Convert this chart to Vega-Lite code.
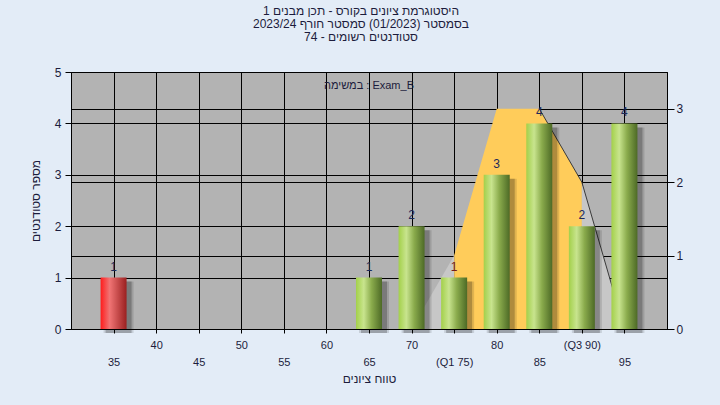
{
  "$schema": "https://vega.github.io/schema/vega-lite/v6.json",
  "width": 596,
  "height": 257,
  "autosize": "none",
  "padding": {"left": 71, "top": 72, "right": 53, "bottom": 76},
  "background": "#e3ecf7",
  "config": {
    "view": {"stroke": "#000", "strokeWidth": 1, "fill": "#b3b3b3"},
    "font": "Liberation Sans"
  },
  "title": {
    "text": ["\u202bהיסטוגרמת ציונים בקורס - תכן מבנים 1\u202c", "\u202bבסמסטר  (01/2023)  סמסטר חורף 2023/24\u202c", "\u202bסטודנטים רשומים - 74\u202c"],
    "anchor": "middle",
    "frame": "group",
    "dx": -8,
    "offset": 22,
    "fontSize": 12,
    "lineHeight": 13,
    "fontWeight": "normal",
    "font": "Liberation Sans",
    "color": "#1c1c3c"
  },
  "datasets": {
    "bars": [
      {"score": 35, "count": 1, "kind": "fail"},
      {"score": 65, "count": 1, "kind": "pass"},
      {"score": 70, "count": 2, "kind": "pass"},
      {"score": 75, "count": 1, "kind": "pass"},
      {"score": 80, "count": 3, "kind": "pass"},
      {"score": 85, "count": 4, "kind": "pass"},
      {"score": 90, "count": 2, "kind": "pass"},
      {"score": 95, "count": 4, "kind": "pass"}
    ],
    "iqr": [
      {"score": 75, "v": 1},
      {"score": 80, "v": 3},
      {"score": 85, "v": 3},
      {"score": 90, "v": 2}
    ],
    "lowTail": [
      {"score": 70, "v": 0},
      {"score": 75, "v": 1}
    ],
    "highTail": [
      {"score": 90, "v": 2},
      {"score": 95, "v": 0}
    ],
    "curve": [
      {"score": 85, "v": 3},
      {"score": 90, "v": 2},
      {"score": 95, "v": 0}
    ],
    "note": [
      {"score": 65, "count": 4.73, "label": "במשימה : Exam_B"}
    ]
  },
  "encoding": {
    "x": {
      "field": "score",
      "type": "quantitative",
      "scale": {"domain": [30, 100], "nice": false, "zero": false, "padding": 0},
      "axis": {
        "values": [35, 40, 45, 50, 55, 60, 65, 70, 75, 80, 85, 90, 95],
        "title": "\u202bטווח ציונים\u202c",
        "grid": true,
        "gridColor": "#000",
        "gridOpacity": 1,
        "gridWidth": 1,
        "domainColor": "#000",
        "tickColor": "#000",
        "tickSize": 4,
        "labelExpr": "datum.value == 75 ? '(Q1 75)' : datum.value == 90 ? '(Q3 90)' : datum.label",
        "labelPadding": {"condition": {"test": "datum.value % 10 == 5", "value": 23}, "value": 6},
        "labelFontSize": 11,
        "labelColor": "#1c1c3c",
        "labelFlush": false,
        "labelOverlap": false,
        "titleFontSize": 12,
        "titleFontWeight": "normal",
        "titleColor": "#1c1c3c",
        "titlePadding": 6
      }
    }
  },
  "layer": [
    {
      "layer": [
        {
          "data": {"name": "iqr"},
          "mark": {"type": "area", "color": "#ffcc5a", "opacity": 1},
          "encoding": {
            "y": {
              "field": "v",
              "type": "quantitative",
              "scale": {"domain": [0, 3.5], "nice": false},
              "axis": {
                "orient": "right",
                "values": [0, 1, 2, 3],
                "format": "d",
                "title": null,
                "grid": true,
                "gridColor": "#000",
                "gridOpacity": 1,
                "domainColor": "#000",
                "tickColor": "#000",
                "tickSize": 7,
                "labelPadding": 2,
                "labelFontSize": 12,
                "labelColor": "#1c1c3c"
              }
            }
          }
        },
        {
          "data": {"name": "lowTail"},
          "mark": {"type": "area", "color": "#c7c7c7"},
          "encoding": {"y": {"field": "v", "type": "quantitative"}}
        },
        {
          "data": {"name": "highTail"},
          "mark": {"type": "area", "color": "#c7c7c7"},
          "encoding": {"y": {"field": "v", "type": "quantitative"}}
        },
        {
          "data": {"name": "curve"},
          "mark": {"type": "line", "color": "#3a3a3a", "strokeWidth": 1},
          "encoding": {"y": {"field": "v", "type": "quantitative"}}
        }
      ]
    },
    {
      "data": {"name": "bars"},
      "layer": [
        {
          "mark": {"type": "bar", "width": 30, "xOffset": 5, "yOffset": 4, "y2Offset": 5, "color": "#000", "opacity": 0.12},
          "encoding": {
            "y": {
              "field": "count",
              "type": "quantitative",
              "scale": {"domain": [0, 5], "nice": false},
              "axis": {
                "orient": "left",
                "values": [0, 1, 2, 3, 4, 5],
                "title": "\u202bמספר סטודנטים\u202c",
                "grid": true,
                "gridColor": "#000",
                "gridOpacity": 1,
                "domainColor": "#000",
                "tickColor": "#000",
                "tickSize": 6,
                "labelPadding": 4,
                "labelFontSize": 12,
                "labelColor": "#1c1c3c",
                "titleFontSize": 12,
                "titleFontWeight": "normal",
                "titleColor": "#1c1c3c",
                "titlePadding": 12
              }
            }
          }
        },
        {
          "mark": {"type": "bar", "width": 26, "xOffset": 5, "yOffset": 4, "y2Offset": 3, "color": "#000", "opacity": 0.22},
          "encoding": {"y": {"field": "count", "type": "quantitative"}}
        },
        {
          "transform": [{"filter": "datum.kind == 'pass'"}],
          "mark": {
            "type": "bar",
            "width": 26,
            "color": {
              "gradient": "linear",
              "x1": 0, "y1": 0, "x2": 1, "y2": 0,
              "stops": [
                {"offset": 0, "color": "#a3d04a"},
                {"offset": 0.3, "color": "#c8e48e"},
                {"offset": 0.6, "color": "#8aab4c"},
                {"offset": 1, "color": "#4d6a26"}
              ]
            }
          },
          "encoding": {"y": {"field": "count", "type": "quantitative"}}
        },
        {
          "transform": [{"filter": "datum.kind == 'fail'"}],
          "mark": {
            "type": "bar",
            "width": 26,
            "color": {
              "gradient": "linear",
              "x1": 0, "y1": 0, "x2": 1, "y2": 0,
              "stops": [
                {"offset": 0, "color": "#ff1c1c"},
                {"offset": 0.35, "color": "#f07474"},
                {"offset": 1, "color": "#9a2020"}
              ]
            }
          },
          "encoding": {"y": {"field": "count", "type": "quantitative"}}
        },
        {
          "mark": {"type": "text", "baseline": "bottom", "dy": -4, "fontSize": 12, "font": "Liberation Sans"},
          "encoding": {
            "y": {"field": "count", "type": "quantitative"},
            "text": {"field": "count", "type": "quantitative"},
            "color": {"condition": {"test": "datum.score == 75", "value": "#7a1a1a"}, "value": "#1c2a5a"}
          }
        },
        {
          "data": {"name": "note"},
          "mark": {"type": "text", "fontSize": 11, "font": "Liberation Sans", "color": "#1c1c3c"},
          "encoding": {
            "y": {"field": "count", "type": "quantitative"},
            "text": {"field": "label"}
          }
        }
      ]
    }
  ],
  "resolve": {"scale": {"y": "independent"}}
}
